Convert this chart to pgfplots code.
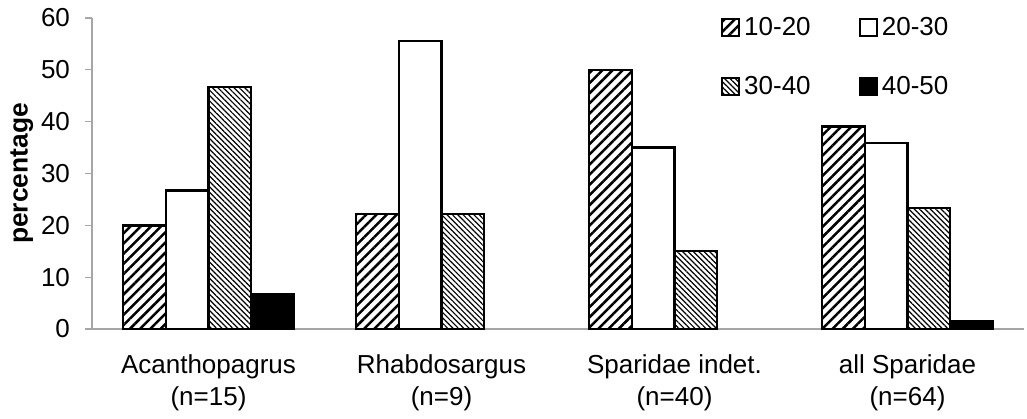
\documentclass[border=0pt]{standalone}
\usepackage{fontspec}
\setmainfont{Liberation Sans}
\usepackage{pgfplots}
\pgfplotsset{compat=1.18}
\usetikzlibrary{patterns.meta}

\tikzset{
  wide hatch/.style={pattern={Lines[angle=45,distance=3.6pt,line width=1.25pt]}},
  thin hatch/.style={pattern={Lines[angle=-45,distance=1.9pt,line width=0.6pt]}},
}

\begin{document}
\begin{tikzpicture}
  \useasboundingbox (0,0) rectangle (513.5pt,209pt);
  \begin{axis}[
      at={(46pt,44.5pt)}, anchor=south west,
      scale only axis,
      width=466pt, height=155.5pt,
      ybar=0pt, bar width=21.35pt,
      xmin=-0.5, xmax=3.5,
      ymin=0, ymax=60,
      ytick={0,10,...,60},
      xtick={0,1,2,3},
      xticklabels={{Acanthopagrus\\(n=15)},{Rhabdosargus\\(n=9)},{Sparidae indet.\\(n=40)},{all Sparidae\\(n=64)}},
      xticklabel style={align=center, font=\fontsize{13}{16}\selectfont, yshift=-6pt},
      yticklabel style={font=\fontsize{13}{15}\selectfont, xshift=-4pt},
      x tick style={draw=none},
      extra x ticks={-0.5,0.5,1.5,2.5,3.5},
      extra x tick labels={},
      extra x tick style={major tick length=3.5pt, tick style={draw=gray!70, line width=0.6pt}, tick align=outside},
      y tick style={draw=gray!70, line width=0.6pt},
      major tick length=3.5pt,
      tick align=outside,
      axis lines*=left,
      axis line style={draw=gray!70, line width=0.6pt},
      ylabel={\bfseries percentage},
      ylabel style={font=\fontsize{13.2}{15}\selectfont, yshift=-3pt},
      /pgf/number format/assume math mode=true,
      legend columns=2,
      legend style={draw=none, fill=none, at={(0.668,1.03)}, anchor=north west,
        font=\fontsize{13}{15}\selectfont, row sep=15pt,
        /tikz/every even column/.append style={column sep=22pt}},
      legend image code/.code={\draw[#1, line width=1pt] (0pt,-4.3pt) rectangle (8.6pt,4.3pt);},
    ]
    \addplot[draw=black, line width=1.2pt, wide hatch] coordinates {(0,20.0) (1,22.2) (2,50.0) (3,39.1)};
    \addlegendentry{10-20}
    \addplot[draw=black, line width=1.2pt, fill=white] coordinates {(0,26.7) (1,55.6) (2,35.0) (3,35.9)};
    \addlegendentry{20-30}
    \addplot[draw=black, line width=1.2pt, thin hatch] coordinates {(0,46.7) (1,22.2) (2,15.0) (3,23.4)};
    \addlegendentry{30-40}
    \addplot[draw=black, line width=1.2pt, fill=black] coordinates {(0,6.7) (3,1.6)};
    \addlegendentry{40-50}
  \end{axis}
\end{tikzpicture}
\end{document}
